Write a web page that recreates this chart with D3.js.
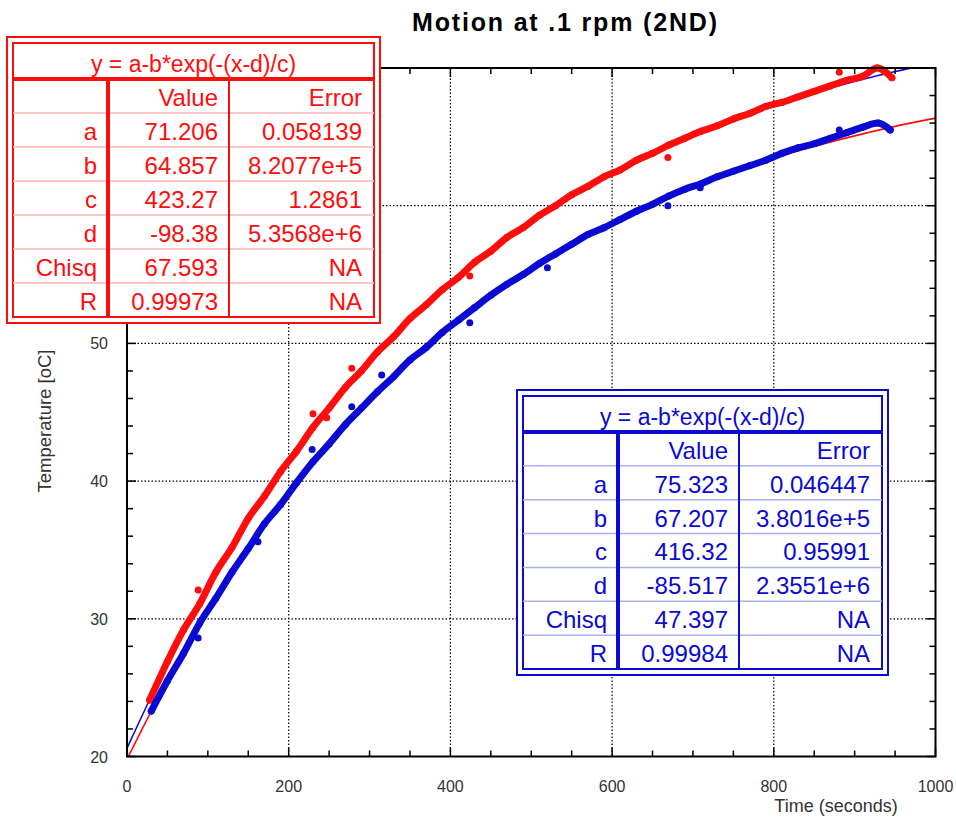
<!DOCTYPE html>
<html>
<head>
<meta charset="utf-8">
<script src="https://cdn.jsdelivr.net/npm/d3@7"></script>
<style>
  body { margin: 0; background: #fff; }
  text { font-family: "Liberation Sans", Arial, sans-serif; }
</style>
</head>
<body>
<script>
const redTime = [28, 50, 70, 90, 110, 130, 150, 170, 190, 210, 230, 250, 270, 290, 310, 330, 350, 370, 390, 410,
  430, 450, 470, 490, 510, 530, 550, 570, 590, 610, 630, 650, 670, 690, 710, 730, 750, 770, 790, 810,
  830, 850, 870, 890, 910, 928, 946];
const redTemp = [24.1, 26.9, 29.2, 31.1, 33.4, 35.2, 37.3, 38.9, 40.7, 42.2, 43.9, 45.3, 46.8, 48.0, 49.4, 50.5, 51.8, 52.8, 53.9, 54.8,
  55.9, 56.7, 57.7, 58.4, 59.3, 60.0, 60.8, 61.4, 62.1, 62.6, 63.3, 63.8, 64.4, 64.9, 65.4, 65.8, 66.3, 66.7, 67.2, 67.5,
  67.9, 68.3, 68.7, 69.1, 69.4, 70.0, 69.3];
const blueTime = [30, 50, 70, 90, 110, 130, 150, 170, 190, 210, 230, 250, 270, 290, 310, 330, 350, 370, 390, 410,
  430, 450, 470, 490, 510, 530, 550, 570, 590, 610, 630, 650, 670, 690, 710, 730, 750, 770, 790, 810,
  830, 850, 870, 890, 910, 929, 944];
const blueTemp = [23.3, 25.5, 27.5, 29.7, 31.5, 33.4, 35.1, 36.9, 38.3, 39.9, 41.4, 42.7, 44.1, 45.3, 46.5, 47.6, 48.8, 49.7, 50.8, 51.7,
  52.6, 53.5, 54.3, 55.0, 55.8, 56.5, 57.2, 57.9, 58.4, 59.0, 59.6, 60.1, 60.7, 61.2, 61.6, 62.1, 62.5, 62.9, 63.3, 63.8,
  64.2, 64.5, 64.9, 65.3, 65.7, 66.0, 65.5];
// stray points
const redStrayTime = [88, 230, 247, 278, 424, 669, 881];
const redStrayTemp = [32.1, 44.9, 44.6, 48.2, 54.9, 63.5, 69.7];
const blueStrayTime = [88, 162, 229, 278, 315, 424, 520, 669, 709, 881];
const blueStrayTemp = [28.6, 35.6, 42.3, 45.4, 47.7, 51.5, 55.5, 60.0, 61.3, 65.5];

// fitted curves
const fitTime = [0, 50, 100, 150, 200, 250, 300, 350, 400, 450, 500, 550, 600, 650, 700, 750, 800, 850, 900, 950, 1000];
const fitUpper = [20.60, 26.79, 32.28, 37.15, 41.47, 45.30, 48.70, 51.71, 54.39, 56.76, 58.86, 60.72, 62.37, 63.84, 65.14,
  66.29, 67.31, 68.22, 69.02, 69.74, 70.37];
const fitLower = [19.80, 25.53, 30.62, 35.14, 39.16, 42.73, 45.90, 48.72, 51.23, 53.45, 55.43, 57.19, 58.75, 60.14, 61.37,
  62.47, 63.44, 64.31, 65.07, 65.76, 66.36];

// fit tables
const tableTitle = "y = a-b*exp(-(x-d)/c)";
const tableHeader = ["", "Value", "Error"];
const rowNames = ["a", "b", "c", "d", "Chisq", "R"];
const redValues = ["71.206", "64.857", "423.27", "-98.38", "67.593", "0.99973"];
const redErrors = ["0.058139", "8.2077e+5", "1.2861", "5.3568e+6", "NA", "NA"];
const blueValues = ["75.323", "67.207", "416.32", "-85.517", "47.397", "0.99984"];
const blueErrors = ["0.046447", "3.8016e+5", "0.95991", "2.3551e+6", "NA", "NA"];

const xTicks = [0, 200, 400, 600, 800, 1000];
const yTicks = [20, 30, 40, 50, 60, 70];
const yLabels = [20, 30, 40, 50]; // 60 and 70 sit under the red table

const RED = "#ff0d0d", BLUE = "#0a0ad2";

let margin = { top: 68, left: 127, bottom: 63.5, right: 20.5 };
let width = 956 - margin.left - margin.right;
let height = 820 - margin.top - margin.bottom;

let svg = d3.select("body").append("svg")
  .attr("width", 956)
  .attr("height", 820);

let plot = svg.append("g")
  .attr("transform", `translate(${margin.left}, ${margin.top})`);

let x = d3.scaleLinear().domain([0, 1000]).range([0, width]);
let y = d3.scaleLinear().domain([20, 70]).range([height, 0]);

drawGrid();
drawFits();
drawData(redTime, redTemp, redStrayTime, redStrayTemp, RED);
drawData(blueTime, blueTemp, blueStrayTime, blueStrayTemp, BLUE);
drawAxes();
drawLabels();
drawTable(7, 37, 373, 286, RED, "#ffb4b4", redValues, redErrors);
drawTable(517, 390, 371, 285, BLUE, "#aab0f0", blueValues, blueErrors);

function drawGrid() {
  plot.append("g").selectAll("line")
    .data(xTicks.slice(1, -1))
    .enter().append("line")
    .attr("x1", d => x(d)).attr("x2", d => x(d))
    .attr("y1", 0).attr("y2", height)
    .attr("stroke", "#000").attr("stroke-width", 1.2)
    .attr("stroke-dasharray", "1.5,2");
  plot.append("g").selectAll("line")
    .data(yTicks.slice(1, -1))
    .enter().append("line")
    .attr("y1", d => y(d)).attr("y2", d => y(d))
    .attr("x1", 0).attr("x2", width)
    .attr("stroke", "#000").attr("stroke-width", 1.2)
    .attr("stroke-dasharray", "1.5,2");
}

function drawFits() {
  svg.append("clipPath").attr("id", "clip")
    .append("rect").attr("width", width).attr("height", height);

  let line = d3.line()
    .x((d, i) => x(fitTime[i]))
    .y(d => y(d))
    .curve(d3.curveMonotoneX);

  let g = plot.append("g").attr("clip-path", "url(#clip)");
  g.append("path").attr("d", line(fitLower))
    .attr("fill", "none").attr("stroke", RED).attr("stroke-width", 1.6);
  g.append("path").attr("d", line(fitUpper))
    .attr("fill", "none").attr("stroke", BLUE).attr("stroke-width", 1.6);
}

function drawData(times, temps, strayT, strayV, color) {
  let pts = times.map((t, i) => [t, temps[i]]);
  let line = d3.line().x(d => x(d[0])).y(d => y(d[1])).curve(d3.curveMonotoneX);

  // dense run of readings drawn as a band of dots
  plot.append("path").attr("d", line(pts))
    .attr("fill", "none").attr("stroke", color)
    .attr("stroke-width", 7).attr("stroke-linecap", "round");

  plot.append("g").selectAll("circle")
    .data(pts.concat(strayT.map((t, i) => [t, strayV[i]])))
    .enter().append("circle")
    .attr("cx", d => x(d[0]))
    .attr("cy", d => y(d[1]))
    .attr("r", 3.5)
    .attr("fill", color);
}

function drawAxes() {
  let minorX = d3.range(0, 1001, 50);
  let minorY = d3.range(20, 71, 2);

  let ticks = plot.append("g").attr("stroke", "#000").attr("stroke-width", 1.5);
  minorX.forEach(v => {
    let len = v % 200 === 0 ? 9 : 6;
    ticks.append("line").attr("x1", x(v)).attr("x2", x(v)).attr("y1", height).attr("y2", height - len);
    ticks.append("line").attr("x1", x(v)).attr("x2", x(v)).attr("y1", 0).attr("y2", len);
  });
  minorY.forEach(v => {
    let len = v % 10 === 0 ? 9 : 6;
    ticks.append("line").attr("y1", y(v)).attr("y2", y(v)).attr("x1", 0).attr("x2", len);
    ticks.append("line").attr("y1", y(v)).attr("y2", y(v)).attr("x1", width).attr("x2", width - len);
  });

  plot.append("rect")
    .attr("width", width).attr("height", height)
    .attr("fill", "none").attr("stroke", "#000").attr("stroke-width", 2);

  plot.append("g").selectAll("text")
    .data(xTicks)
    .enter().append("text")
    .attr("x", d => x(d))
    .attr("y", height + 35)
    .attr("text-anchor", "middle")
    .attr("font-size", 16)
    .attr("fill", "#333")
    .text(d => d);

  plot.append("g").selectAll("text")
    .data(yLabels)
    .enter().append("text")
    .attr("x", -19)
    .attr("y", d => y(d) + 6)
    .attr("text-anchor", "end")
    .attr("font-size", 16)
    .attr("fill", "#333")
    .text(d => d);
}

function drawLabels() {
  svg.append("text")
    .attr("x", 412).attr("y", 31)
    .attr("textLength", 305).attr("lengthAdjust", "spacing")
    .attr("font-size", 25).attr("font-weight", "bold")
    .text("Motion at .1 rpm (2ND)");

  svg.append("text")
    .attr("x", 836).attr("y", 812)
    .attr("text-anchor", "middle")
    .attr("font-size", 18).attr("fill", "#333")
    .text("Time (seconds)");

  svg.append("text")
    .attr("transform", "translate(51, 421) rotate(-90)")
    .attr("text-anchor", "middle")
    .attr("font-size", 18.5).attr("fill", "#333")
    .text("Temperature [oC]");
}

function drawTable(x0, y0, w, h, color, light, values, errors) {
  let g = svg.append("g").attr("transform", `translate(${x0}, ${y0})`);
  let inset = 6;
  let ix = inset, iy = inset, iw = w - 2 * inset, ih = h - 2 * inset;
  let titleH = 36;
  let rowH = (ih - titleH) / 7;
  let col1 = ix + 95, col2 = ix + 216;

  g.append("rect").attr("x", 0).attr("y", 0).attr("width", w).attr("height", h)
    .attr("fill", "#fff").attr("stroke", color).attr("stroke-width", 2);
  g.append("rect").attr("x", ix).attr("y", iy).attr("width", iw).attr("height", ih)
    .attr("fill", "none").attr("stroke", color).attr("stroke-width", 2);

  // row separators
  for (let r = 1; r < 7; r++) {
    g.append("line")
      .attr("x1", ix).attr("x2", ix + iw)
      .attr("y1", iy + titleH + r * rowH).attr("y2", iy + titleH + r * rowH)
      .attr("stroke", light).attr("stroke-width", 1.5);
  }
  g.append("line").attr("x1", ix).attr("x2", ix + iw)
    .attr("y1", iy + titleH).attr("y2", iy + titleH)
    .attr("stroke", color).attr("stroke-width", 4);
  g.append("line").attr("x1", col1).attr("x2", col1)
    .attr("y1", iy + titleH).attr("y2", iy + ih)
    .attr("stroke", color).attr("stroke-width", 4);
  g.append("line").attr("x1", col2).attr("x2", col2)
    .attr("y1", iy + titleH).attr("y2", iy + ih)
    .attr("stroke", color).attr("stroke-width", 2);

  g.append("text")
    .attr("x", ix + iw / 2).attr("y", iy + 29)
    .attr("text-anchor", "middle").attr("font-size", 23).attr("fill", color)
    .text(tableTitle);

  let rows = [tableHeader].concat(rowNames.map((n, i) => [n, values[i], errors[i]]));
  let colRight = [col1 - 11, col2 - 11, ix + iw - 12];
  rows.forEach((row, r) => {
    row.forEach((cell, c) => {
      g.append("text")
        .attr("x", colRight[c])
        .attr("y", iy + titleH + (r + 1) * rowH - 7)
        .attr("text-anchor", "end")
        .attr("font-size", 24)
        .attr("fill", color)
        .text(cell);
    });
  });
}
</script>
</body>
</html>
